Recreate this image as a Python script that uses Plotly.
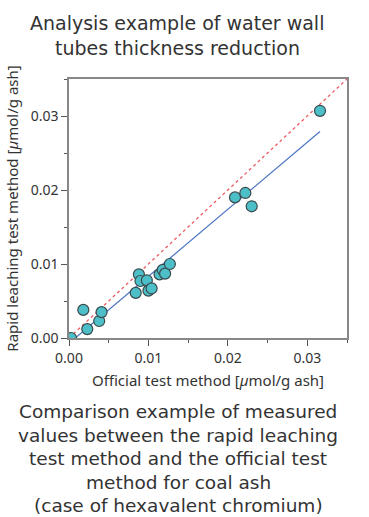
import plotly.graph_objects as go

official = [0.00025, 0.0018, 0.0023, 0.0038, 0.0041, 0.0084, 0.0088, 0.0090, 0.0098,
            0.0100, 0.0104, 0.0114, 0.0118, 0.0121, 0.0127, 0.0209, 0.0222, 0.0230, 0.0316]
rapid = [0.0000, 0.0038, 0.0012, 0.0023, 0.0035, 0.0061, 0.0086, 0.0077, 0.0078,
         0.0064, 0.0067, 0.0086, 0.0092, 0.0087, 0.0100, 0.0190, 0.0196, 0.0178, 0.0307]
fit_x = [0.0008, 0.0316]
fit_y = [0.0000, 0.0279]
ident = [0.0, 0.035]
tick_vals = [0.0, 0.01, 0.02, 0.03]
tick_text = ["0.00", "0.01", "0.02", "0.03"]
title_lines = ["Analysis example of water wall", "tubes thickness reduction"]
caption_lines = ["Comparison example of measured",
                 "values between the rapid leaching",
                 "test method and the official test",
                 "method for coal ash",
                 "(case of hexavalent chromium)"]

font = "Noto Sans, Open Sans, sans-serif"
block_font = "DejaVu Sans, Noto Sans, sans-serif"
txt = "#333333"

W, H = 369, 517
ML, MR, MT, MB = 69, 22, 79, 179
PH = H - MT - MB


def paper_y(py):
    return (H - MB - py) / PH


fig = go.Figure()
fig.add_trace(go.Scatter(x=ident, y=ident, mode="lines",
                         line=dict(color="#EE5A5F", width=1.3, dash="dot"), hoverinfo="skip"))
fig.add_trace(go.Scatter(x=fit_x, y=fit_y, mode="lines",
                         line=dict(color="#4A74C4", width=1.2), hoverinfo="skip"))
fig.add_trace(go.Scatter(x=official, y=rapid, mode="markers",
                         marker=dict(size=11, color="#4DBFC9",
                                     line=dict(color="#3A4A4C", width=1.2)),
                         cliponaxis=True))

axis_common = dict(range=[0, 0.035], tickvals=tick_vals, ticktext=tick_text,
                   showgrid=False, zeroline=False, showline=True, linecolor="#888888",
                   linewidth=1.5, mirror=True, ticks="outside", ticklen=6, tickwidth=1,
                   tickcolor="#555555", tickfont=dict(size=14, color=txt, family=font),
                   minor=dict(dtick=0.005, ticks="outside", ticklen=3, tickcolor="#555555"))

annotations = []
for i, line in enumerate(title_lines):
    annotations.append(dict(text=line, xref="paper", yref="paper", x=(177 - ML) / (W - ML - MR),
                            y=paper_y([23, 48][i]), xanchor="center", yanchor="middle",
                            showarrow=False, font=dict(size=19, color=txt, family=block_font)))
cap_y = [411.5, 435, 458.5, 482, 505]
for i, line in enumerate(caption_lines):
    annotations.append(dict(text=line, xref="paper", yref="paper", x=(178 - ML) / (W - ML - MR),
                            y=paper_y(cap_y[i]), xanchor="center", yanchor="middle",
                            showarrow=False, font=dict(size=18.5, color=txt, family=block_font)))

fig.update_layout(
    width=W, height=H,
    margin=dict(l=ML, r=MR, t=MT, b=MB),
    paper_bgcolor="white", plot_bgcolor="white",
    showlegend=False,
    font=dict(family=font, color=txt),
    xaxis=dict(**axis_common,
               title=dict(text="Official test method [<i>µ</i>mol/g ash]",
                          font=dict(size=15, color=txt, family=font), standoff=10)),
    yaxis=dict(**axis_common,
               title=dict(text="Rapid leaching test method [<i>µ</i>mol/g ash]",
                          font=dict(size=15, color=txt, family=font), standoff=8)),
    annotations=annotations,
)

fig.write_html("out.html")
